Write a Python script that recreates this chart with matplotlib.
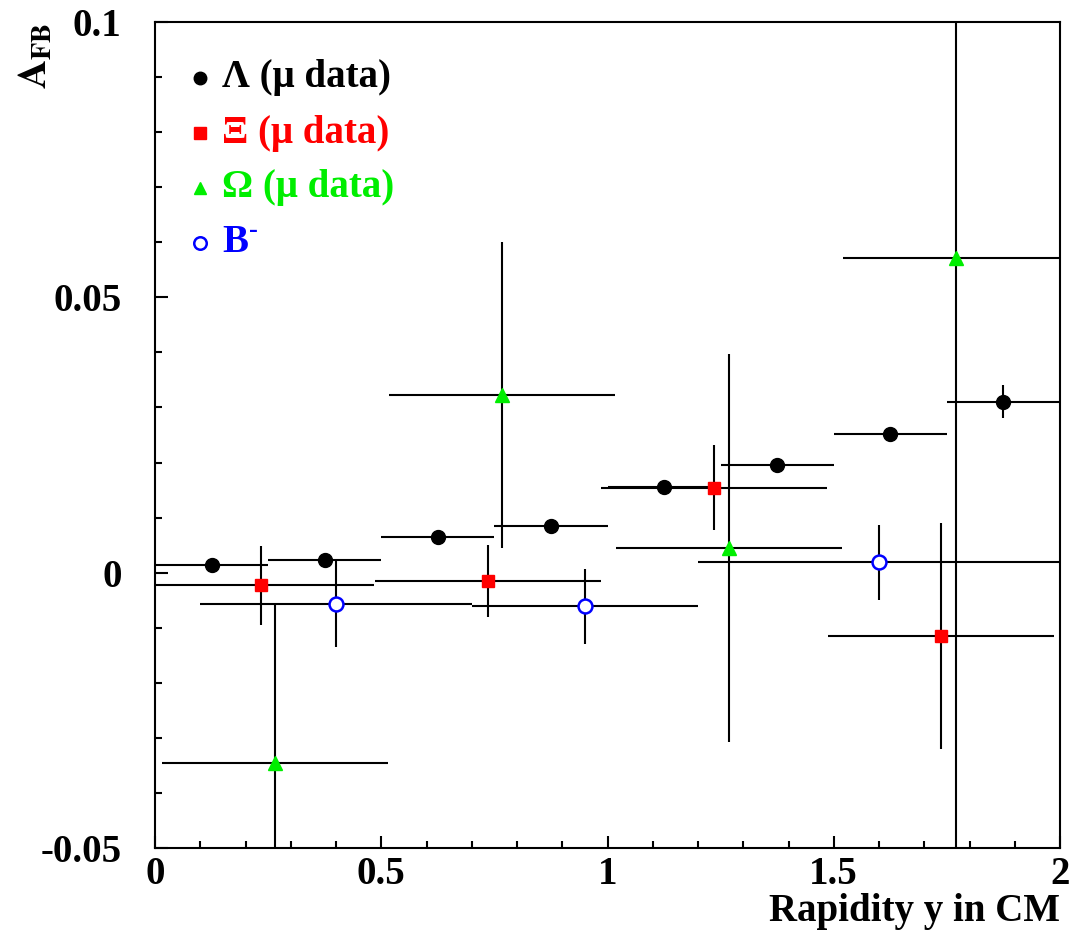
import matplotlib
matplotlib.use("Agg")
import matplotlib.pyplot as plt
from matplotlib.ticker import MultipleLocator, FixedLocator, FixedFormatter

plt.rcParams['font.family'] = ['Liberation Serif', 'DejaVu Serif']
plt.rcParams['font.weight'] = 'bold'
plt.rcParams['mathtext.fontset'] = 'stix'

# Lambda (mu data)
lam_x = [0.125, 0.375, 0.625, 0.875, 1.125, 1.375, 1.625, 1.875]
lam_y = [0.0014, 0.0023, 0.0065, 0.0085, 0.0155, 0.0195, 0.0252, 0.0310]
lam_xerr = [0.125] * 8
lam_yerr = [0.0005, 0.0005, 0.0005, 0.0005, 0.0005, 0.0005, 0.001, 0.003]

# Xi (mu data)
xi_x = [0.234, 0.736, 1.235, 1.737]
xi_y = [-0.0023, -0.0015, 0.0154, -0.0115]
xi_xerr = [0.25] * 4
xi_yerr = [0.0072, 0.0066, 0.0077, 0.0205]

# Omega (mu data)
om_x = [0.265, 0.767, 1.268, 1.770]
om_y = [-0.0346, 0.0323, 0.0045, 0.0572]
om_xerr = [0.25] * 4
om_yerr = [0.029, 0.0278, 0.0353, 0.12]

# B-
b_x = [0.40, 0.95, 1.60]
b_y = [-0.0057, -0.0061, 0.0019]
b_xerr = [0.30, 0.25, 0.40]
b_yerr = [0.0078, 0.0068, 0.0068]

x_ticks = [0, 0.5, 1, 1.5, 2]
x_ticklabels = ['0', '0.5', '1', '1.5', '2']
y_ticks = [-0.05, 0, 0.05, 0.1]
y_ticklabels = ['-0.05', '0', '0.05', '0.1']

FS = 28

fig = plt.figure(figsize=(10.78, 9.42), dpi=100)
ax = fig.add_axes([155/1078, 1-848/942, (1060-155)/1078, (848-22)/942])

ebkw = dict(ecolor='black', elinewidth=1.5, capsize=0, linestyle='none')
ax.errorbar(lam_x, lam_y, xerr=lam_xerr, yerr=lam_yerr, marker='o', ms=10,
            mfc='black', mec='black', **ebkw)
ax.errorbar(xi_x, xi_y, xerr=xi_xerr, yerr=xi_yerr, marker='s', ms=9,
            mfc='red', mec='red', **ebkw)
ax.errorbar(om_x, om_y, xerr=om_xerr, yerr=om_yerr, marker='^', ms=10,
            mfc='#00ee00', mec='#00ee00', **ebkw)
ax.errorbar(b_x, b_y, xerr=b_xerr, yerr=b_yerr, marker='o', ms=10,
            mfc='white', mec='blue', mew=1.8, **ebkw)

ax.set_xlim(0, 2)
ax.set_ylim(-0.05, 0.1)
ax.xaxis.set_major_locator(FixedLocator(x_ticks))
ax.xaxis.set_major_formatter(FixedFormatter(x_ticklabels))
ax.xaxis.set_minor_locator(MultipleLocator(0.1))
ax.yaxis.set_major_locator(FixedLocator(y_ticks))
ax.yaxis.set_major_formatter(FixedFormatter(y_ticklabels))
ax.yaxis.set_minor_locator(MultipleLocator(0.01))
ax.tick_params(which='both', direction='in', top=False, right=False, width=1.5)
ax.tick_params(which='major', length=9, labelsize=FS)
ax.tick_params(axis='x', which='major', pad=6)
ax.tick_params(axis='y', which='major', pad=24)
ax.tick_params(which='minor', length=5)
for lbl in ax.get_xticklabels() + ax.get_yticklabels():
    lbl.set_fontweight('bold')
for s in ax.spines.values():
    s.set_linewidth(1.5)

# Legend (manual)
leg = [('o', 'black', 'black', 'Λ (μ data)', 'black'),
       ('s', 'red', 'red', 'Ξ (μ data)', 'red'),
       ('^', '#00ee00', '#00ee00', 'Ω (μ data)', '#00ee00'),
       ('o', 'white', 'blue', 'B', 'blue')]
for i, (m, fc, ec, txt, tc) in enumerate(leg):
    yp = 1 - (78 - 22 + 55 * i) / 826
    xm = (200 - 155) / 905
    ax.plot([xm], [yp], marker=m, ms=9 if m != 's' else 8, mfc=fc, mec=ec,
            mew=1.8 if fc == 'white' else 1, transform=ax.transAxes, clip_on=False)
    ax.text((222 - 155) / 905, yp, txt, color=tc, fontsize=FS, fontweight='bold',
            va='center', ha='left', transform=ax.transAxes)
    if txt == 'B':
        ax.annotate('-', xy=((222 - 155) / 905, yp), xycoords='axes fraction',
                    xytext=(19.5, 9), textcoords='offset points', color=tc,
                    fontsize=19, fontweight='bold', va='center', ha='left')

fig.text(1060/1078, 1-911/942, 'Rapidity y in CM', ha='right', va='center',
         fontsize=FS, fontweight='bold')
fig.text(36/1078, 1-56/942, r'$\mathbf{A_{FB}}$', rotation=90, ha='center',
         va='center', fontsize=29)

fig.savefig('out.png', dpi=100)
